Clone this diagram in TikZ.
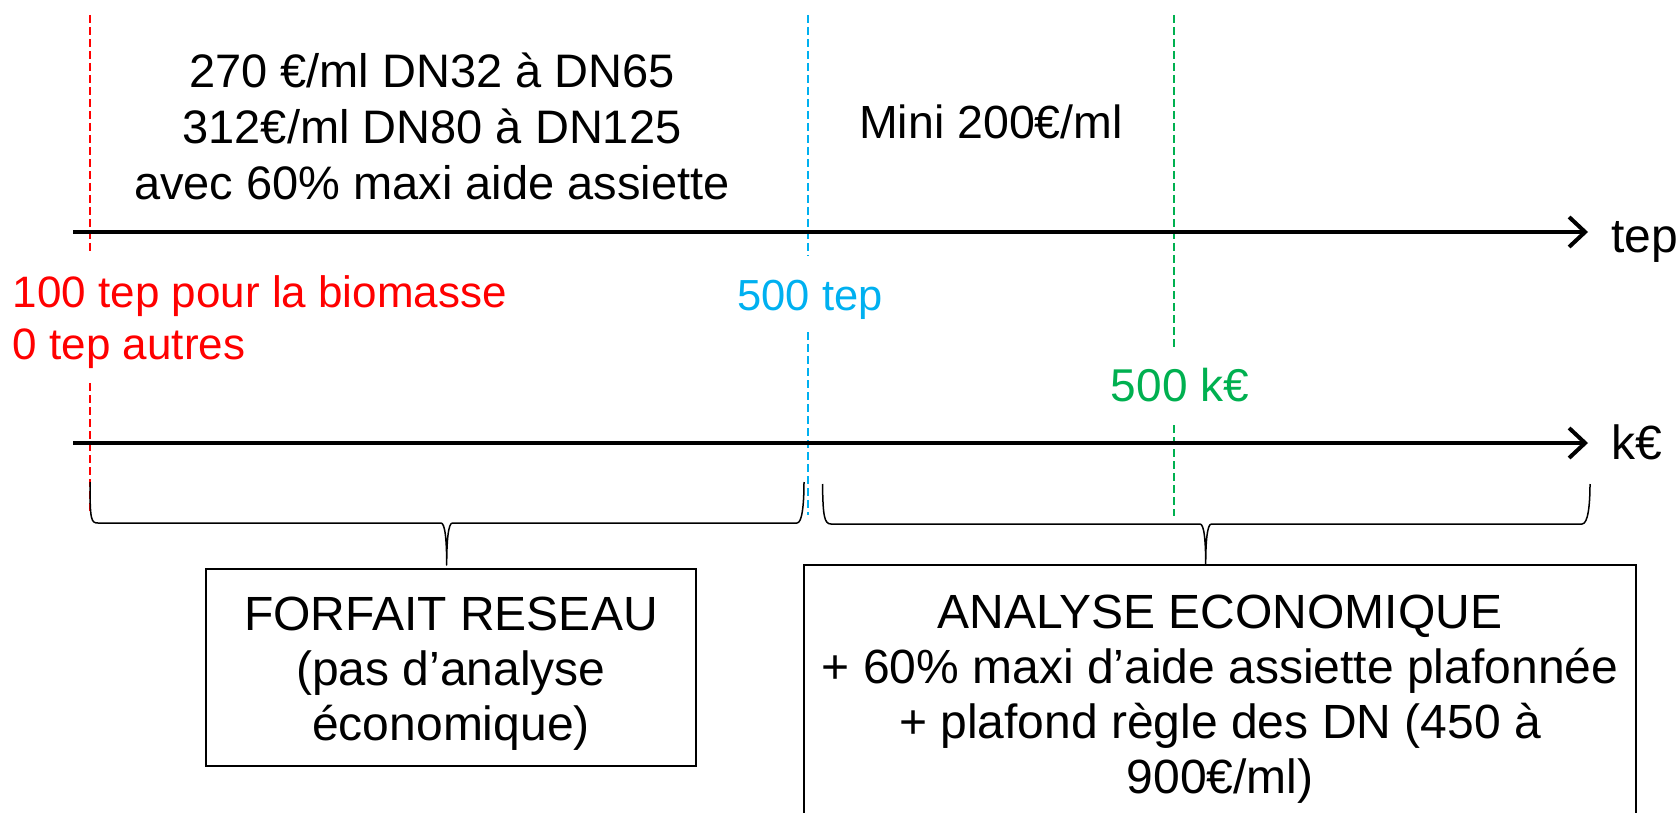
\documentclass[tikz,border=0pt]{standalone}
\usepackage{fontspec}
\setmainfont{Liberation Sans}
\usetikzlibrary{arrows.meta}

\begin{document}
\begin{tikzpicture}[x=1pt,y=-1pt,
  axe/.style={line width=4pt,-{Straight Barb[length=16pt,width=30pt]}},
  seuil/.style={line width=1.5pt,dash pattern=on 8pt off 4pt},
  accolade/.style={line width=1.5pt,line join=round},
  boite/.style={draw,line width=1.5pt},
  texteboite/.style={align=center,font=\fontsize{48}{55}\selectfont}]
\clip (0,0) rectangle (1676,813);
% seuils
\draw[seuil,color={rgb,255:red,255;green,0;blue,0}] (90,15) -- (90,253);
\draw[seuil,color={rgb,255:red,255;green,0;blue,0}] (90,383) -- (90,513);
\draw[seuil,color={rgb,255:red,0;green,176;blue,240}] (808,15) -- (808,256);
\draw[seuil,color={rgb,255:red,0;green,176;blue,240}] (808,332) -- (808,515);
\draw[seuil,color={rgb,255:red,0;green,176;blue,80}] (1174,15) -- (1174,348);
\draw[seuil,color={rgb,255:red,0;green,176;blue,80}] (1174,425) -- (1174,516);
% axes
\draw[axe] (73,232) -- (1588,232);
\draw[axe] (73,443) -- (1588,443);
\node[anchor=base west,inner sep=0pt,font=\fontsize{48}{56}\selectfont] (tep) at (1611,252) {tep};
\node[anchor=base west,inner sep=0pt,font=\fontsize{48}{56}\selectfont] (keuro) at (1611,459) {k€};
% textes
\node[align=center,font=\fontsize{47}{56}\selectfont] (prix) at (432,126) {270 €/ml DN32 à DN65\\312€/ml DN80 à DN125\\avec 60\% maxi aide assiette};
\node[anchor=base,font=\fontsize{46.5}{56}\selectfont] (mini) at (991,138.6) {Mini 200€/ml};
\node[align=left,anchor=west,inner sep=0pt,font=\fontsize{44}{52}\selectfont,color={rgb,255:red,255;green,0;blue,0}] (biomasse) at (12.6,322) {100 tep pour la biomasse\\0 tep autres};
\node[anchor=base,font=\fontsize{43.5}{52}\selectfont,color={rgb,255:red,0;green,176;blue,240}] (tep500) at (810,310.7) {500 tep};
\node[anchor=base,font=\fontsize{46}{52}\selectfont,color={rgb,255:red,0;green,176;blue,80}] (keuro500) at (1180,401.8) {500 k€};
% boites
\node[boite,minimum width=490pt,minimum height=197pt] (forfait) at (451,667.5) {};
\node[texteboite] (forfaittexte) at (451,674) {FORFAIT RESEAU\\(pas d’analyse\\économique)};
\node[boite,minimum width=832pt,minimum height=251pt] (analyse) at (1220,690.5) {};
\node[texteboite] (analysetexte) at (1220,699) {ANALYSE ECONOMIQUE\\+ 60\% maxi d’aide assiette plafonnée\\+ plafond règle des DN (450 à\\900€/ml)};
% accolades
\coordinate (g1) at (90,482);
\coordinate (d1) at (804,482);
\coordinate (p1) at (446.7,565);
\coordinate (g2) at (822.5,484);
\coordinate (d2) at (1590,484);
\coordinate (p2) at (1205.7,565);
\draw[accolade] (g1) .. controls (90,520) and (91,523) .. (98,523) -- (441,523)
  .. controls (445,523) and (446.7,540) .. (p1) .. controls (446.7,540) and (448.4,523) .. (452.4,523)
  -- (797,523) .. controls (802,523) and (804,505) .. (d1);
\draw[accolade] (g2) .. controls (823,515) and (824,524) .. (831,524) -- (1200,524)
  .. controls (1204,524) and (1205.7,540) .. (p2) .. controls (1205.7,540) and (1207.4,524) .. (1211.4,524)
  -- (1582,524) .. controls (1588,524) and (1590,505) .. (d2);
\end{tikzpicture}
\end{document}
